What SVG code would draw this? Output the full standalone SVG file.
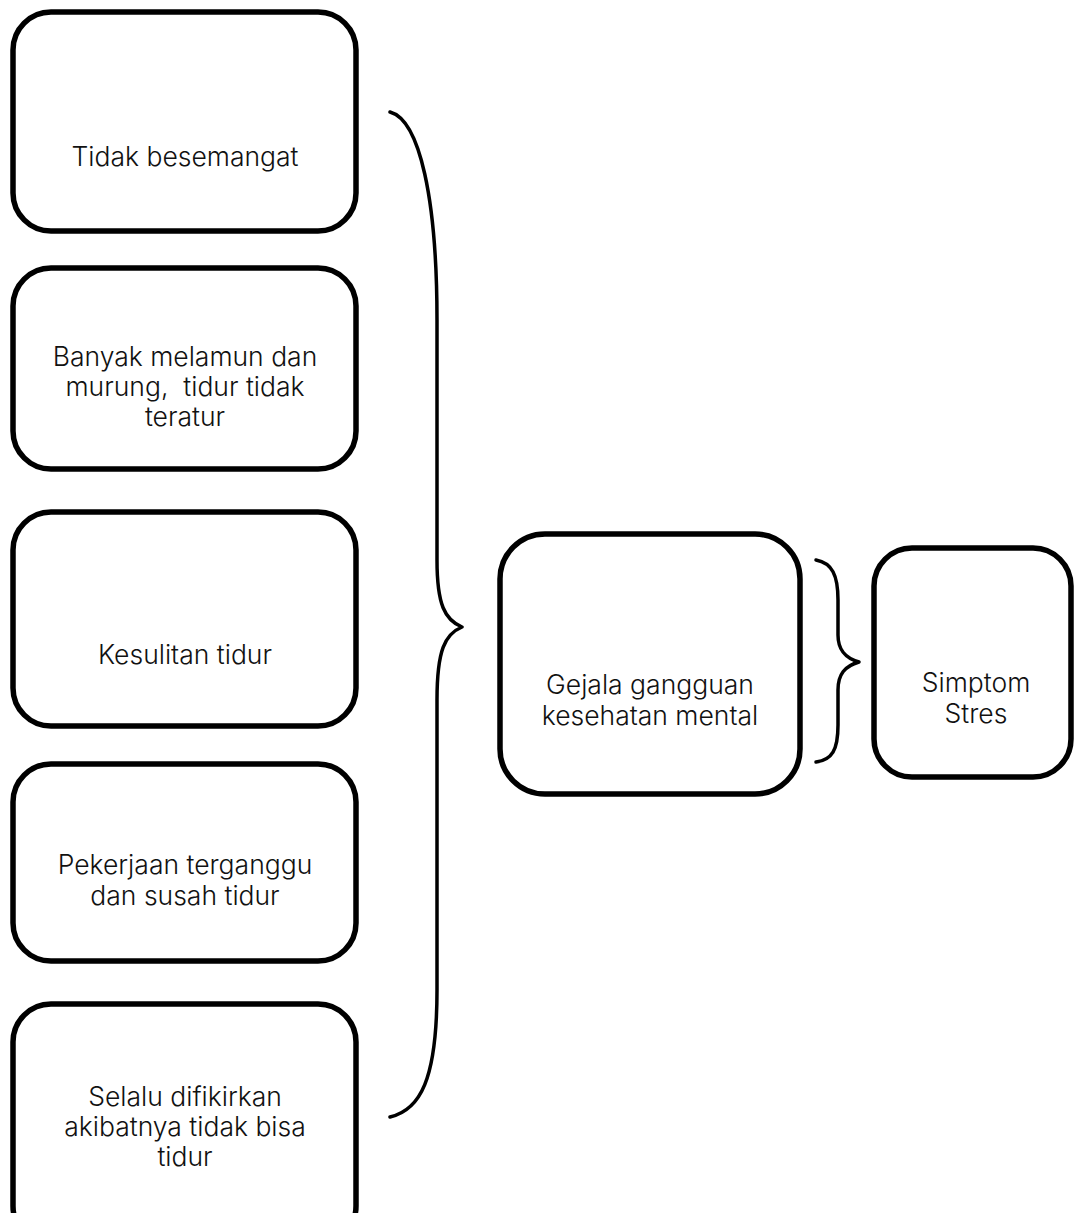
<svg xmlns="http://www.w3.org/2000/svg" width="1075" height="1213" viewBox="0 0 1075 1213">
<style>
.box{fill:#fff;stroke:#000;stroke-width:5.5}
.t{font-family:Inter,"Liberation Sans",sans-serif;font-size:26.5px;font-weight:300;fill:#111;text-anchor:middle}
.br{fill:none;stroke:#000;stroke-width:3.5;stroke-linecap:round;stroke-linejoin:round}
</style>
<rect width="1075" height="1213" fill="#fff"/>
<g id="n1"><rect class="box" x="13" y="12" width="343" height="219" rx="38"/><text class="t" x="185" y="166">Tidak besemangat</text></g>
<g id="n2"><rect class="box" x="13" y="268" width="343" height="201" rx="38"/><text class="t" x="185" y="366">Banyak melamun dan</text><text class="t" x="185" y="396" xml:space="preserve">murung,  tidur tidak</text><text class="t" x="185" y="426">teratur</text></g>
<g id="n3"><rect class="box" x="13" y="512" width="343" height="214" rx="38"/><text class="t" x="185" y="664">Kesulitan tidur</text></g>
<g id="n4"><rect class="box" x="13" y="764" width="343" height="197" rx="38"/><text class="t" x="185" y="874">Pekerjaan terganggu</text><text class="t" x="185" y="905">dan susah tidur</text></g>
<g id="n5"><rect class="box" x="13" y="1004" width="343" height="240" rx="38"/><text class="t" x="185" y="1106">Selalu difikirkan</text><text class="t" x="185" y="1136">akibatnya tidak bisa</text><text class="t" x="185" y="1166">tidur</text></g>
<g id="n6"><rect class="box" x="500" y="534" width="300" height="260" rx="45"/><text class="t" x="650" y="694">Gejala gangguan</text><text class="t" x="650" y="725">kesehatan mental</text></g>
<g id="n7"><rect class="box" x="874" y="548" width="197" height="229" rx="38"/><text class="t" x="976" y="692">Simptom</text><text class="t" x="976" y="723">Stres</text></g>
<g id="connectors">
<path class="br" d="M390,112 C420,120 437,200 437,320 L437,560 C437,605 445,620 462,627 C445,634 437,650 437,700 L437,990 C437,1080 420,1110 390,1117"/>
<path class="br" d="M816,560 C832,563 838,575 838,600 L838,635 C838,650 845,658 859,662 C845,666 838,674 838,690 L838,725 C838,750 832,760 816,762"/>
</g>
</svg>
